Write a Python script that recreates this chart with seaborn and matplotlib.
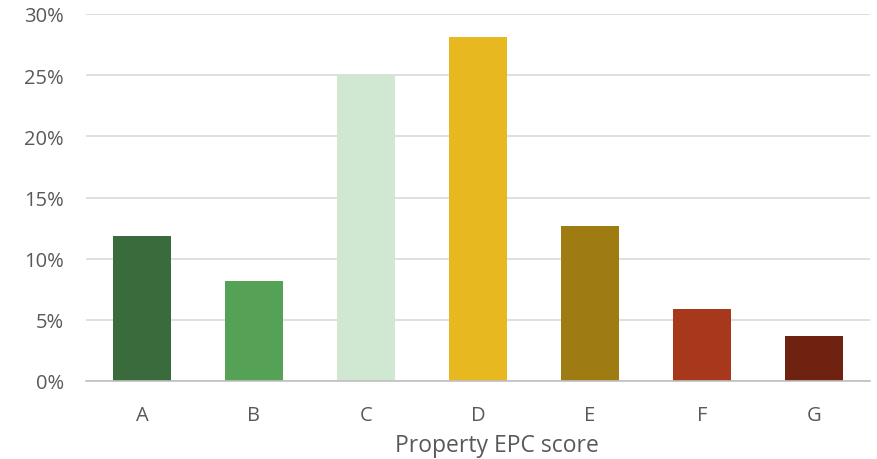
import matplotlib
matplotlib.use("Agg")
import matplotlib.pyplot as plt
import seaborn as sns
import pandas as pd
from matplotlib.ticker import PercentFormatter, MultipleLocator

categories = ["A", "B", "C", "D", "E", "F", "G"]
shares = [11.85, 8.2, 25.0, 28.1, 12.7, 5.9, 3.7]
bar_colors = ["#3A6B3C", "#55A257", "#D0E8D2", "#E8B820", "#9E7C12", "#A8381C", "#6F2210"]

df = pd.DataFrame({"EPC": categories, "Share": shares})

sns.set_theme(style="white")
plt.rcParams["font.family"] = ["Open Sans", "DejaVu Sans"]

fig = plt.figure(figsize=(8.78, 4.60), dpi=100)
ax = fig.add_axes([86/878, 1-382/460, (870-86)/878, (382-15)/460])

sns.barplot(data=df, x="EPC", y="Share", hue="EPC", palette=bar_colors,
            legend=False, width=0.51, saturation=1, linewidth=0, ax=ax)

ax.set_ylim(0, 30)
ax.set_xlim(-0.5, 6.5)
ax.yaxis.set_major_locator(MultipleLocator(5))
ax.yaxis.set_major_formatter(PercentFormatter(decimals=0))
ax.grid(axis="y", color="#D9D9D9", linewidth=1.2)
ax.set_axisbelow(True)
for s in ["top", "right", "left"]:
    ax.spines[s].set_visible(False)
ax.spines["bottom"].set_color("#BFBFBF")
ax.spines["bottom"].set_linewidth(1.2)
ax.tick_params(axis="both", length=0, colors="#595959", labelsize=14.5)
ax.tick_params(axis="y", pad=16)
ax.tick_params(axis="x", pad=17)
ax.set_ylabel("")
ax.set_xlabel("Property EPC score", fontsize=16.5, color="#595959", labelpad=6)
ax.xaxis.label.set_x(0.524)

fig.savefig("out.png", dpi=100)
